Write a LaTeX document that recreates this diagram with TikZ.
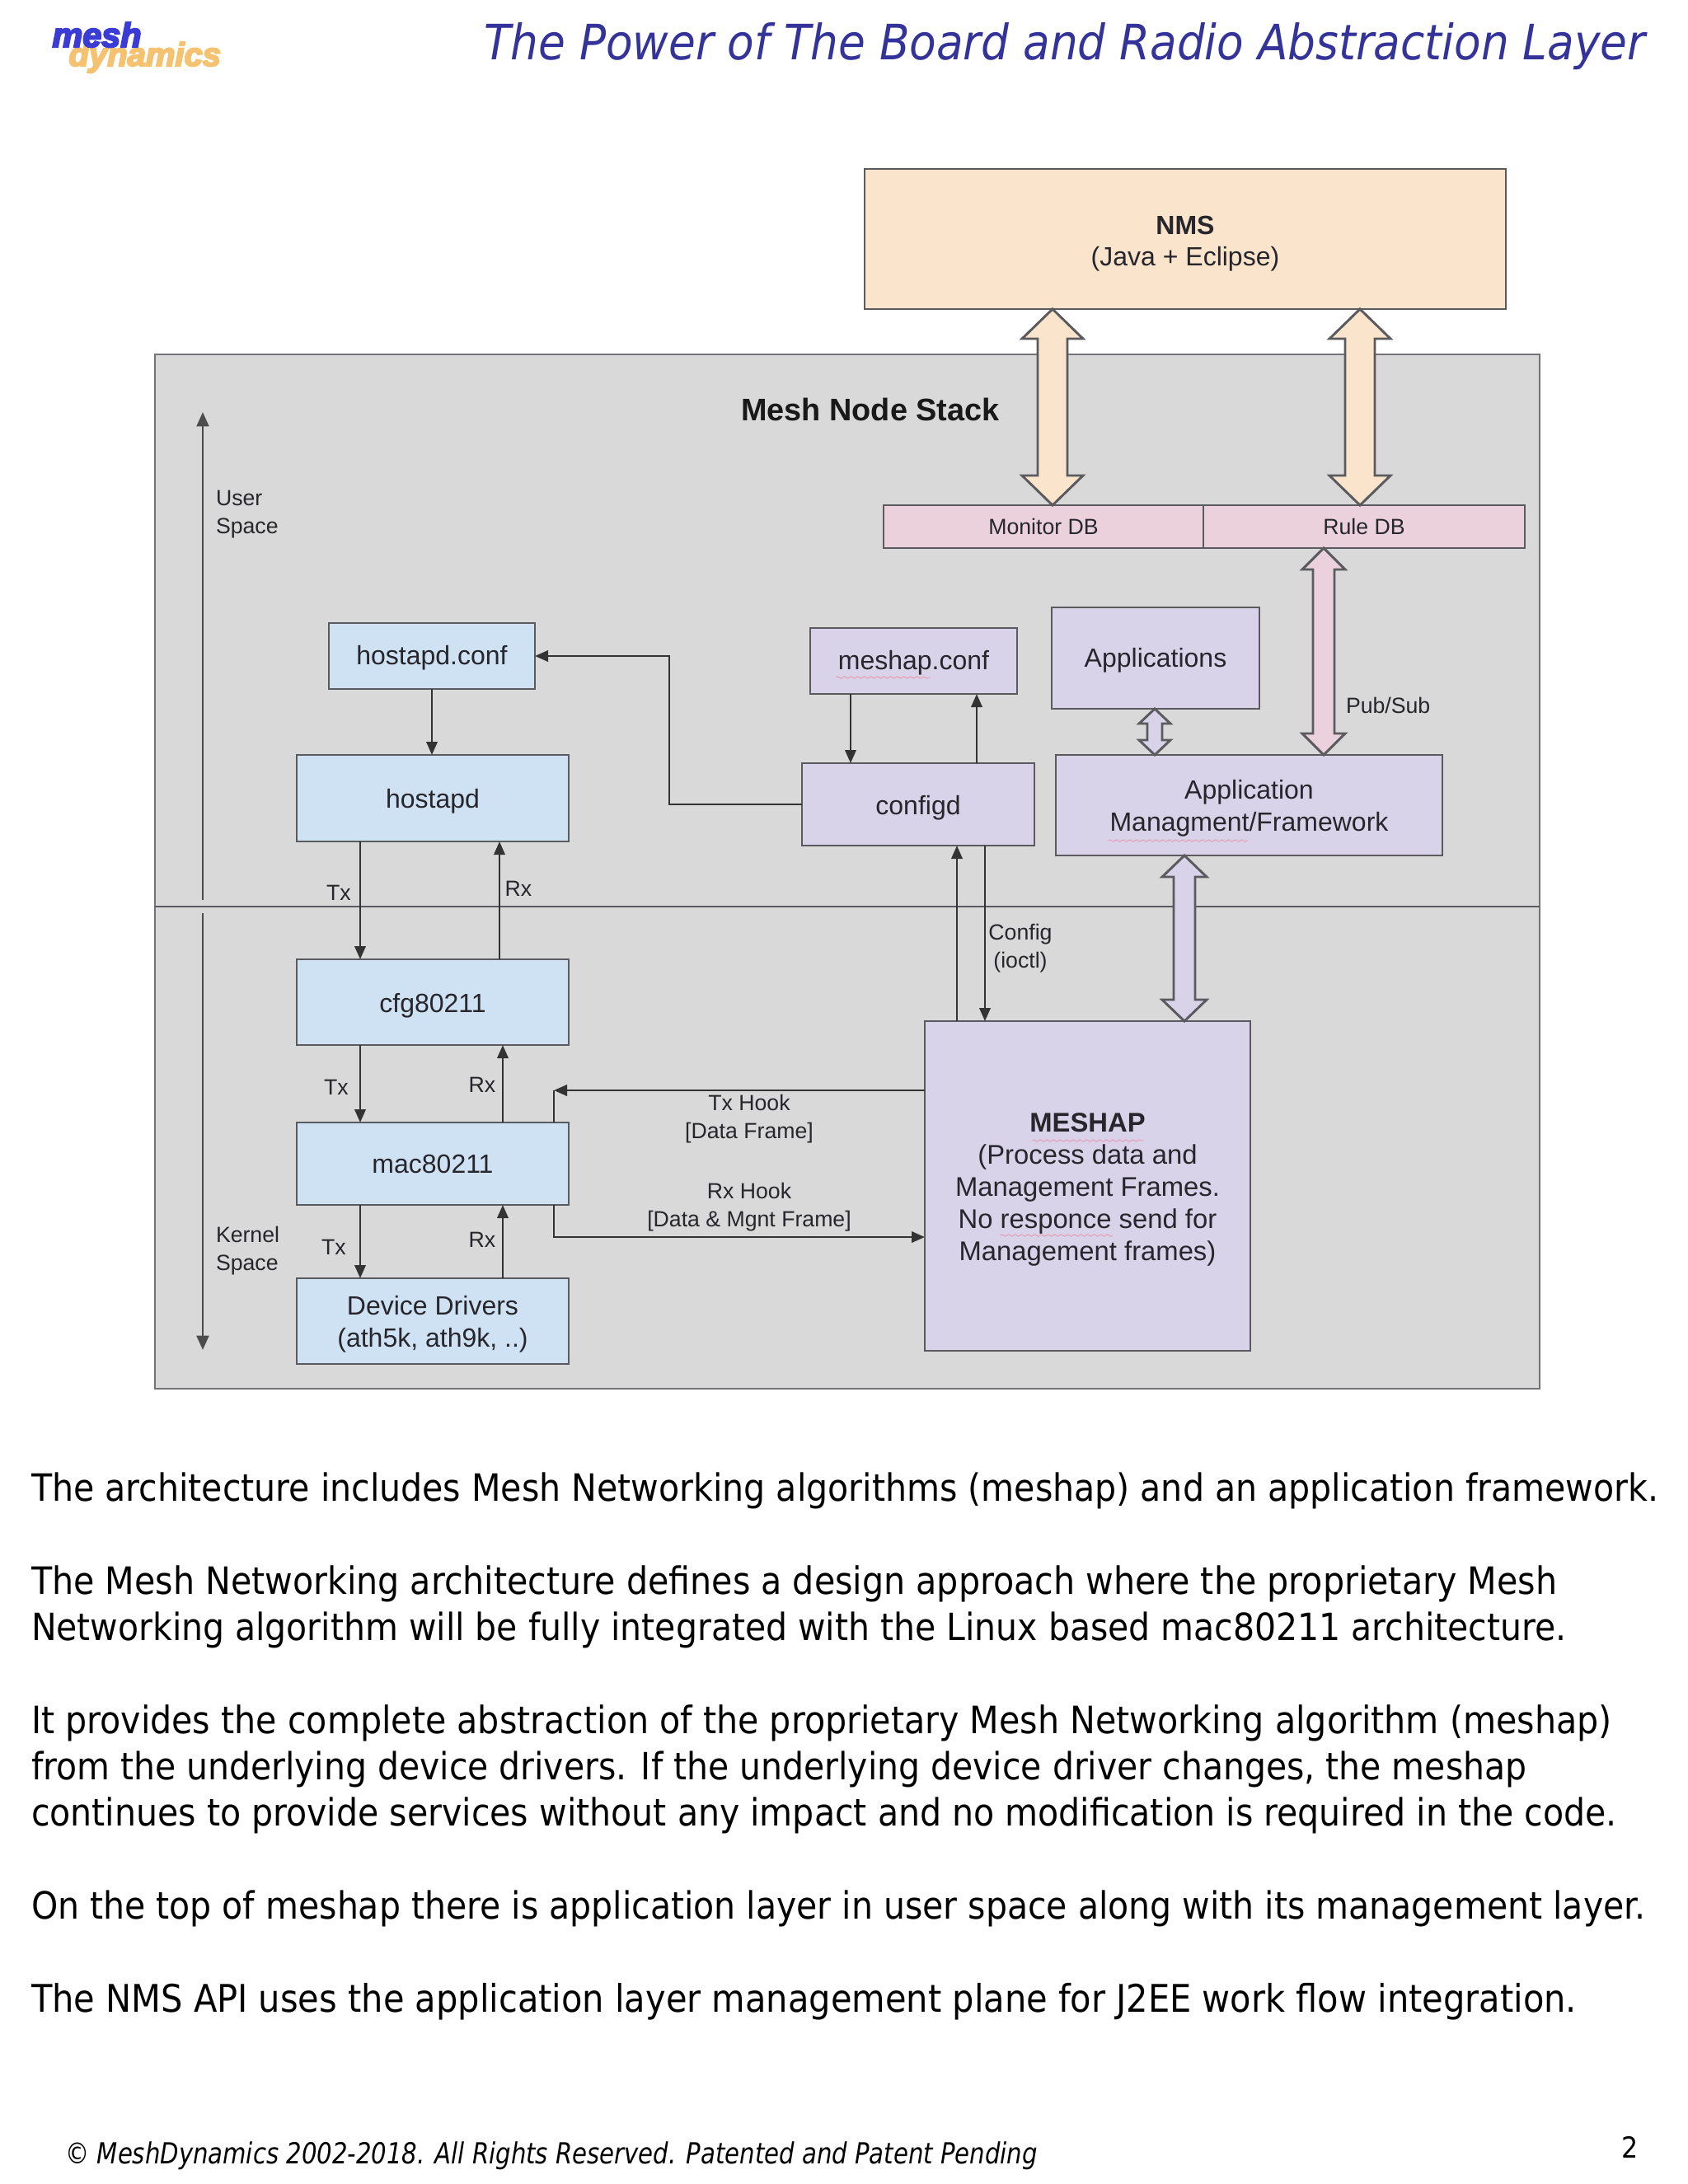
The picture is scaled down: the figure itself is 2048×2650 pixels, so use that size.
\documentclass[tikz,border=0pt]{standalone}
\usepackage{fontspec}
\usetikzlibrary{arrows.meta,calc,decorations.pathmorphing}
\setmainfont{Liberation Sans}
\newfontfamily\tah[ItalicFont={DejaVu Sans Condensed Oblique}]{DejaVu Sans Condensed}
\newfontfamily\footf[FakeStretch=0.92]{DejaVu Sans Condensed Oblique}
\newfontfamily\logofont[UprightFont={* Bold Italic},FakeBold=5]{Liberation Sans}
\definecolor{stackfill}{HTML}{D9D9D9}
\definecolor{edge}{HTML}{5A5A5F}
\definecolor{nmsfill}{HTML}{FBE4CC}
\definecolor{pinkfill}{HTML}{EAD1DC}
\definecolor{lavfill}{HTML}{D9D3E9}
\definecolor{bluefill}{HTML}{CFE2F3}
\definecolor{ink}{HTML}{26262C}
\definecolor{titleblue}{HTML}{333399}
\definecolor{squig}{HTML}{E59DB6}
\definecolor{logoblue}{HTML}{3B3BD6}
\definecolor{logoorange}{HTML}{F5C272}
\newcommand{\sr}[1]{\rule{0pt}{#1pt}}
\tikzset{
  box/.style={draw=edge,line width=1pt,inner sep=0pt,outer sep=0pt,align=center,text=ink,font=\fontsize{12}{14.3}\selectfont},
  smallbox/.style={box,font=\fontsize{10}{12}\selectfont},
  lab/.style={inner sep=0pt,outer sep=0pt,align=center,text=ink,font=\fontsize{10}{12.7}\selectfont},
  labl/.style={lab,align=left},
  body/.style={inner sep=0pt,outer sep=0pt,anchor=base west,text=black,font=\tah\fontsize{#1}{20}\selectfont},
  conn/.style={draw=black!80,line width=1pt},
  arr/.style={conn,-{Triangle[length=6pt,width=5pt]}},
  thick conn/.style={draw=black!70,line width=1.1pt},
  dblarrow/.style={draw=edge,line width=1.1pt,line join=miter},
  spell/.style={draw=squig,line width=.35pt,decorate,decoration={snake,segment length=3pt,amplitude=.45pt}},
}
\newcommand{\bx}[7]{%
  \pgfmathsetmacro{\bxw}{(#4-#2)*0.375}%
  \pgfmathsetmacro{\bxh}{(#5-#3)*0.375}%
  \node[#6,minimum width=\bxw pt,minimum height=\bxh pt] (#1) at ({(#2+#4)/2},{(#3+#5)/2}) {#7};}
\newcommand{\dbl}[6]{%
  \draw[dblarrow,fill=#6] (#1) -- ([shift={(#3,#5)}]#1) -- ([shift={(#4,#5)}]#1) -- ([shift={(#4,-#5)}]#2) -- ([shift={(#3,-#5)}]#2) -- (#2)
    -- ([shift={(-#3,-#5)}]#2) -- ([shift={(-#4,-#5)}]#2) -- ([shift={(-#4,#5)}]#1) -- ([shift={(-#3,#5)}]#1) -- cycle;}
\begin{document}
\begin{tikzpicture}[x=0.375pt,y=-0.375pt]
\useasboundingbox[fill=white] (0,0) rectangle (2048,2650);
% logo and title
\node[inner sep=0pt,anchor=base west,text=logoorange,font=\logofont\fontsize{15}{18}\selectfont] (logodyn) at (83,80) {dynamics};
\node[inner sep=0pt,anchor=base west,text=logoblue,font=\logofont\fontsize{15.5}{18}\selectfont] (logomesh) at (63,57) {mesh};
\node[inner sep=0pt,anchor=base east,text=titleblue,font=\tah\itshape\fontsize{22.2}{26}\selectfont] (title) at (1997,72) {The Power of The Board and Radio Abstraction Layer};
% outer stack
\bx{stack}{188}{430}{1868}{1685}{box,fill=stackfill,draw=edge!85!white}{}
\node[inner sep=0pt,font=\bfseries\fontsize{14.2}{17}\selectfont,text=black!90] (stacktitle) at (1056,497) {Mesh Node Stack};
\coordinate (yMid) at (0,1100);
\draw[conn,draw=edge,line width=.8pt] (stack.west |- yMid) -- (stack.east |- yMid);
% vertical user/kernel axis
\coordinate (axisTop) at (246,500);
\coordinate (axisUp) at (246,1092);
\coordinate (axisDown) at (246,1108);
\coordinate (axisBot) at (246,1638);
\draw[thick conn,-{Triangle[length=6.5pt,width=5.5pt]}] (axisUp) -- (axisTop);
\draw[thick conn,-{Triangle[length=6.5pt,width=5.5pt]}] (axisDown) -- (axisBot);
\node[labl,anchor=west] (userspace) at (262,624) {User\\Space};
\node[labl,anchor=west] (kernelspace) at (262,1518) {Kernel\\Space};
% boxes
\bx{nms}{1049}{205}{1827}{375}{box,fill=nmsfill}{\sr{12.4}\textbf{NMS}\\(Java + Eclipse)}
\bx{mondb}{1072}{613}{1460}{665}{smallbox,fill=pinkfill}{Monitor DB}
\bx{ruledb}{1460}{613}{1850}{665}{smallbox,fill=pinkfill}{Rule DB}
\bx{apps}{1276}{737}{1528}{860}{box,fill=lavfill}{\sr{10.5}Applications}
\bx{appmgmt}{1281}{916}{1750}{1038}{box,fill=lavfill}{\sr{11.5}Application\\Managment/Framework}
\bx{meshapconf}{983}{762}{1234}{842}{box,fill=lavfill}{\sr{10.5}meshap.conf}
\bx{configd}{973}{926}{1255}{1026}{box,fill=lavfill}{\sr{11.5}configd}
\bx{meshap}{1122}{1239}{1517}{1639}{box,fill=lavfill,font=\fontsize{12.3}{14.6}\selectfont}{\sr{11.8}\textbf{MESHAP}\\(Process data and\\Management Frames.\\No responce send for\\Management frames)}
\bx{hostconf}{399}{756}{649}{836}{box,fill=bluefill}{\sr{10}hostapd.conf}
\bx{hostapd}{360}{916}{690}{1021}{box,fill=bluefill}{\sr{11.5}hostapd}
\bx{cfg}{360}{1164}{690}{1268}{box,fill=bluefill}{\sr{11.5}cfg80211}
\bx{mac}{360}{1362}{690}{1462}{box,fill=bluefill}{mac80211}
\bx{drivers}{360}{1551}{690}{1655}{box,fill=bluefill}{\sr{11.5}Device Drivers\\(ath5k, ath9k, ..)}
% spell-check marks
\coordinate (spA) at (1014,822); \coordinate (spB) at (1129,822);
\draw[spell] (spA) -- (spB);
\coordinate (spC) at (1344,1020); \coordinate (spD) at (1514,1020);
\draw[spell] (spC) -- (spD);
\coordinate (spE) at (1252,1384); \coordinate (spF) at (1388,1384);
\draw[spell] (spE) -- (spF);
\coordinate (spG) at (1213,1499); \coordinate (spH) at (1350,1499);
\draw[spell] (spG) -- (spH);
% thin connectors
\coordinate (xTx) at (437,0);
\coordinate (xRxA) at (606,0);
\coordinate (xRxB) at (610,0);
\coordinate (xHook) at (672,0);
\coordinate (xCfgDown) at (1032,0);
\coordinate (xCfgUp) at (1185,0);
\coordinate (xMeshUp) at (1161,0);
\coordinate (xMeshDown) at (1195,0);
\coordinate (xRoute) at (812,0);
\coordinate (yTxHook) at (0,1323);
\coordinate (yRxHook) at (0,1501);
\draw[arr] (hostconf.south) -- (hostapd.north -| hostconf.south);
\draw[arr] (hostapd.south -| xTx) -- (cfg.north -| xTx);
\draw[arr] (cfg.north -| xRxA) -- (hostapd.south -| xRxA);
\draw[arr] (cfg.south -| xTx) -- (mac.north -| xTx);
\draw[arr] (mac.north -| xRxB) -- (cfg.south -| xRxB);
\draw[arr] (mac.south -| xTx) -- (drivers.north -| xTx);
\draw[arr] (drivers.north -| xRxB) -- (mac.south -| xRxB);
\draw[arr] (configd.west) -- (configd.west -| xRoute) -- (hostconf.east -| xRoute) -- (hostconf.east);
\draw[arr] (meshapconf.south -| xCfgDown) -- (configd.north -| xCfgDown);
\draw[arr] (configd.north -| xCfgUp) -- (meshapconf.south -| xCfgUp);
\draw[arr] (meshap.north -| xMeshUp) -- (configd.south -| xMeshUp);
\draw[arr] (configd.south -| xMeshDown) -- (meshap.north -| xMeshDown);
\draw[conn] (mac.north -| xHook) -- (xHook |- yTxHook);
\draw[arr] (meshap.west |- yTxHook) -- (xHook |- yTxHook);
\draw[arr] (mac.south -| xHook) -- (xHook |- yRxHook) -- (meshap.west |- yRxHook);
% block arrows
\coordinate (xDblA) at (1277,0);
\coordinate (xDblB) at (1650,0);
\coordinate (xDblC) at (1606,0);
\coordinate (xDblD) at (1401,0);
\coordinate (xDblE) at (1437,0);
\dbl{$(nms.south -| xDblA)$}{$(mondb.north -| xDblA)$}{37}{18}{36}{nmsfill}
\dbl{$(nms.south -| xDblB)$}{$(ruledb.north -| xDblB)$}{37}{18}{36}{nmsfill}
\dbl{$(ruledb.south -| xDblC)$}{$(appmgmt.north -| xDblC)$}{26}{13}{26}{pinkfill}
\dbl{$(apps.south -| xDblD)$}{$(appmgmt.north -| xDblD)$}{19}{9}{18}{lavfill}
\dbl{$(appmgmt.south -| xDblE)$}{$(meshap.north -| xDblE)$}{27}{13}{26}{lavfill}
% labels
\node[lab] (txa) at (411,1083) {Tx};
\node[lab] (rxa) at (629,1078) {Rx};
\node[lab] (txb) at (408,1319) {Tx};
\node[lab] (rxb) at (585,1316) {Rx};
\node[lab] (txc) at (405,1513) {Tx};
\node[lab] (rxc) at (585,1504) {Rx};
\node[lab] (txhook) at (909,1358) {Tx Hook\\[0pt][Data Frame]};
\node[lab] (rxhook) at (909,1465) {Rx Hook\\[0pt][Data \& Mgnt Frame]};
\node[labl,anchor=west] (pubsub) at (1633,856) {Pub/Sub};
\node[lab] (config) at (1238,1151) {Config\\(ioctl)};
% body text
\node[body=17.13] (l1) at (38,1821) {The architecture includes Mesh Networking algorithms (meshap) and an application framework.};
\node[body=17.17] (l2) at (38,1934) {The Mesh Networking architecture defines a design approach where the proprietary Mesh};
\node[body=17.08] (l3) at (38,1990) {Networking algorithm will be fully integrated with the Linux based mac80211 architecture.};
\node[body=17.17] (l4) at (38,2103) {It provides the complete abstraction of the proprietary Mesh Networking algorithm (meshap)};
\node[body=17.07] (l5) at (38,2159) {from the underlying device drivers. If the underlying device driver changes, the meshap};
\node[body=17.13] (l6) at (38,2215) {continues to provide services without any impact and no modification is required in the code.};
\node[body=17.1] (l7) at (38,2328) {On the top of meshap there is application layer in user space along with its management layer.};
\node[body=17.33] (l8) at (38,2441) {The NMS API uses the application layer management plane for J2EE work flow integration.};
% footer
\node[inner sep=0pt,anchor=base west,text=black,font=\footf\fontsize{13.2}{16}\selectfont] (footer) at (79,2625) {© MeshDynamics 2002-2018. All Rights Reserved. Patented and Patent Pending};
\node[inner sep=0pt,anchor=base west,text=black,font=\tah\fontsize{13.2}{16}\selectfont] (pagenum) at (1967,2618) {2};
\end{tikzpicture}
\end{document}
